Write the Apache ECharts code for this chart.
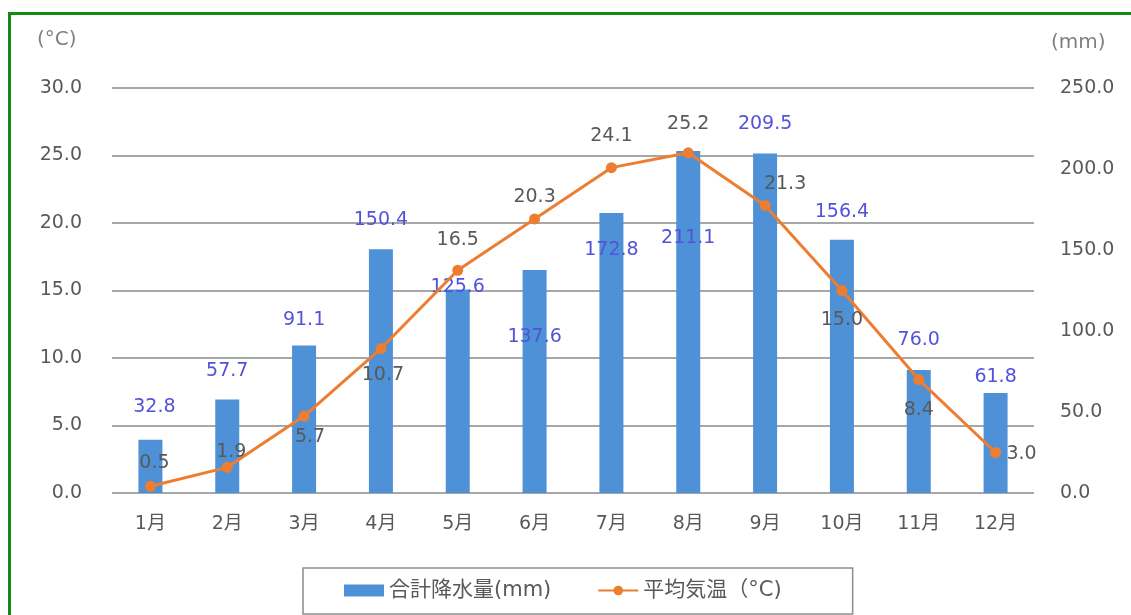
<!DOCTYPE html>
<html><head><meta charset="utf-8">
<script src="https://cdn.jsdelivr.net/npm/echarts@6/dist/echarts.min.js"></script>
<style>html,body{margin:0;padding:0;background:#fff}#c{width:1131px;height:615px}</style>
</head><body><div id="c"></div>
<script>
const categories = ['1月','2月','3月','4月','5月','6月','7月','8月','9月','10月','11月','12月'];
const precipitation = [32.8, 57.7, 91.1, 150.4, 125.6, 137.6, 172.8, 211.1, 209.5, 156.4, 76.0, 61.8];
const temperature = [0.5, 1.9, 5.7, 10.7, 16.5, 20.3, 24.1, 25.2, 21.3, 15.0, 8.4, 3.0];
const seriesNames = ['合計降水量(mm)', '平均気温（°C)'];
const axisUnits = ['(°C)', '(mm)'];

// label placement offsets (px) relative to bar top / point centre
const barLabelOffsets = [[4,-33],[0,-28],[0,-25],[0,-29],[0,-2],[0,67],[0,37],[0,87],[0,-30],[0,-28],[0,-30],[0,-16]];
const lineLabelOffsets = [[4,-23],[4,-15],[6,21],[2,27],[0,-30],[0,-22],[0,-32],[0,-29],[20,-21],[0,30],[0,30],[26,2]];

const FONT = '"DejaVu Sans", "Noto Sans CJK JP", sans-serif';
const GRAY = '#595959';
const FS = 19;

const chart = echarts.init(document.getElementById('c'));
chart.setOption({
  animation: false,
  backgroundColor: '#fff',
  textStyle: { fontFamily: FONT },
  grid: { left: 112, right: 97, top: 88, bottom: 122, containLabel: false },
  graphic: [
    { type: 'rect', shape: { x: 9.5, y: 13.5, width: 1140, height: 700 },
      style: { fill: 'none', stroke: '#138a13', lineWidth: 3 }, silent: true },
    { type: 'text', left: 37, top: 30,
      style: { text: axisUnits[0], fill: '#808080', font: '20px ' + FONT } },
    { type: 'text', left: 1051, top: 33,
      style: { text: axisUnits[1], fill: '#808080', font: '20px ' + FONT } }
  ],
  legend: {
    left: 303, top: 568,
    padding: [12, 71, 13, 41],
    borderColor: '#8c8c8c', borderWidth: 1.5,
    itemGap: 46, itemWidth: 40, itemHeight: 12,
    textStyle: { fontFamily: FONT, fontSize: 21, color: GRAY },
    data: [
      { name: seriesNames[0], icon: 'rect' },
      { name: seriesNames[1] }
    ]
  },
  xAxis: {
    type: 'category', data: categories,
    axisLine: { show: false }, axisTick: { show: false },
    axisLabel: { color: GRAY, fontSize: FS, margin: 22, fontFamily: FONT }
  },
  yAxis: [
    { type: 'value', min: 0, max: 30, interval: 5,
      axisLabel: { color: GRAY, fontSize: FS, margin: 30, fontFamily: FONT,
        formatter: v => v.toFixed(1) },
      splitLine: { lineStyle: { color: '#8a8a8a', width: 1.6 } },
      axisLine: { show: false }, axisTick: { show: false } },
    { type: 'value', min: 0, max: 250, interval: 50,
      axisLabel: { color: GRAY, fontSize: FS, margin: 26, fontFamily: FONT,
        formatter: v => v.toFixed(1) },
      splitLine: { show: false },
      axisLine: { show: false }, axisTick: { show: false } }
  ],
  series: [
    {
      name: seriesNames[0], type: 'bar', yAxisIndex: 1, barWidth: 24, z: 2,
      itemStyle: { color: '#4e91d6' },
      data: precipitation.map((v, i) => ({
        value: v,
        label: { offset: barLabelOffsets[i] }
      })),
      label: { show: true, position: 'top', distance: 0, verticalAlign: 'middle', align: 'center',
        color: '#5353d9', fontSize: FS, fontFamily: FONT,
        formatter: p => p.value.toFixed(1) }
    },
    {
      name: seriesNames[1], type: 'line', yAxisIndex: 0, z: 3,
      symbol: 'circle', symbolSize: 11,
      lineStyle: { color: '#ed7d31', width: 3 },
      itemStyle: { color: '#ed7d31' },
      data: temperature.map((v, i) => ({
        value: v,
        label: { offset: lineLabelOffsets[i] }
      })),
      label: { show: true, position: 'inside', align: 'center', verticalAlign: 'middle',
        color: GRAY, fontSize: FS, fontFamily: FONT,
        formatter: p => p.value.toFixed(1) }
    }
  ]
});
</script>
</body></html>
